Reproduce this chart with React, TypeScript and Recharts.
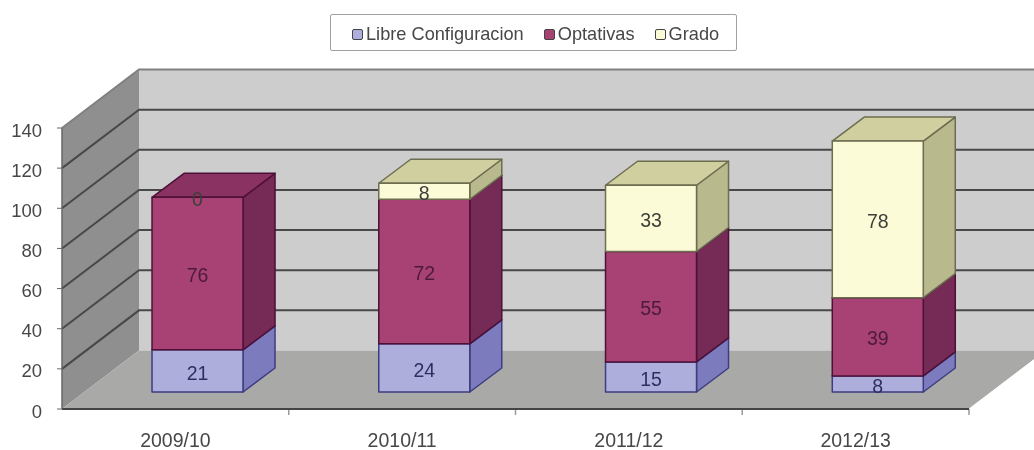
import React from "react";
import {
  Bar,
  BarChart,
  LabelList,
  Legend,
  XAxis,
  YAxis,
  usePlotArea,
} from "recharts";

const categories = ["2009/10", "2010/11", "2011/12", "2012/13"];
const libre = [21, 24, 15, 8];
const optativas = [76, 72, 55, 39];
const grado = [0, 8, 33, 78];
const yTicks = [0, 20, 40, 60, 80, 100, 120, 140];

const data = categories.map((year, i) => ({
  year,
  libre: libre[i],
  optativas: optativas[i],
  grado: grado[i],
}));

const FONT = "'Liberation Sans', Arial, sans-serif";
const TEXT = "#474747";

// 3d offsets: the walls go back by WALL_*, bars sit half way in the floor
const WALL_X = 77;
const WALL_Y = 58.5;
const BAR_SHIFT_X = 22;
const BAR_SHIFT_Y = 17;
const BAR_DEPTH_X = 32;
const BAR_DEPTH_Y = 24;

const pts = (list: number[][]) => list.map((p) => p.join(",")).join(" ");

const Walls = () => {
  const plot = usePlotArea();
  if (!plot) return null;
  const { x, y, width, height } = plot;
  const right = x + width;
  const bottom = y + height;
  const valueY = (v: number) => y + height * (1 - v / 140);
  const step = width / categories.length;
  return (
    <g>
      <polygon
        points={pts([
          [x + WALL_X, y - WALL_Y],
          [right + WALL_X, y - WALL_Y],
          [right + WALL_X, bottom - WALL_Y],
          [x + WALL_X, bottom - WALL_Y],
        ])}
        fill="#cdcdcd"
      />
      <polygon
        points={pts([
          [x, bottom],
          [x + WALL_X, bottom - WALL_Y],
          [x + WALL_X, y - WALL_Y],
          [x, y],
        ])}
        fill="#8f8f8f"
      />
      <polygon
        points={pts([
          [x, bottom],
          [right, bottom],
          [right + WALL_X, bottom - WALL_Y],
          [x + WALL_X, bottom - WALL_Y],
        ])}
        fill="#a9aaa8"
      />
      {yTicks.slice(1).map((t) => (
        <polyline
          key={t}
          points={pts([
            [x, valueY(t)],
            [x + WALL_X, valueY(t) - WALL_Y],
            [right + WALL_X, valueY(t) - WALL_Y],
          ])}
          fill="none"
          stroke={t === 140 ? "#808080" : "#484848"}
          strokeWidth={2}
        />
      ))}
      <line
        x1={right}
        y1={bottom}
        x2={right + WALL_X}
        y2={bottom - WALL_Y}
        stroke="#ffffff"
        strokeWidth={1}
      />
      {categories.map((c, i) => (
        <line
          key={c}
          x1={x + step * (i + 1)}
          y1={bottom}
          x2={x + step * (i + 1)}
          y2={bottom + 6}
          stroke="#9a9a9a"
          strokeWidth={1.5}
        />
      ))}
    </g>
  );
};

const makeBox =
  (front: string, side: string, top: string, edge: string) => (props: any) => {
    const { x, y, width, height } = props;
    if (!height || height <= 0) return null;
    const l = x + BAR_SHIFT_X;
    const r = l + width;
    const t = y - BAR_SHIFT_Y;
    const b = t + height;
    const line = { stroke: edge, strokeWidth: 1.5, strokeLinejoin: "round" as const };
    return (
      <g>
        <polygon
          points={pts([
            [r, t],
            [r + BAR_DEPTH_X, t - BAR_DEPTH_Y],
            [r + BAR_DEPTH_X, b - BAR_DEPTH_Y],
            [r, b],
          ])}
          fill={side}
          {...line}
        />
        <polygon
          points={pts([
            [l, t],
            [l + BAR_DEPTH_X, t - BAR_DEPTH_Y],
            [r + BAR_DEPTH_X, t - BAR_DEPTH_Y],
            [r, t],
          ])}
          fill={top}
          {...line}
        />
        <rect x={l} y={t} width={width} height={height} fill={front} {...line} />
      </g>
    );
  };

const makeLabel = (color: string) => (props: any) => {
  const { x, y, width, height, value } = props;
  return (
    <text
      x={x + BAR_SHIFT_X + width / 2}
      y={y - BAR_SHIFT_Y + height / 2 + 3.5}
      textAnchor="middle"
      dominantBaseline="middle"
      fontFamily={FONT}
      fontSize={19.5}
      fill={color}
    >
      {value}
    </text>
  );
};

const LegendBox = ({ payload }: any) => (
  <div
    style={{
      boxSizing: "border-box",
      width: 407,
      height: 37,
      paddingLeft: 21,
      paddingTop: 3,
      border: "1.5px solid #a0a0a0",
      borderRadius: 2,
      background: "#fff",
      display: "flex",
      alignItems: "center",
      gap: 20,
      fontFamily: FONT,
      fontSize: 18.2,
      color: TEXT,
    }}
  >
    {(payload || []).map((item: any) => (
      <span key={item.value} style={{ display: "flex", alignItems: "center", gap: 3 }}>
        <span
          style={{
            boxSizing: "border-box",
            width: 11,
            height: 11,
            borderRadius: 2,
            background: item.color,
            border: "1.5px solid #444",
          }}
        />
        {item.value}
      </span>
    ))}
  </div>
);

export default function App() {
  return (
    <div
      style={{
        position: "absolute",
        left: 0,
        top: 0,
        width: 1034,
        height: 450,
        background: "#fff",
        filter: "blur(0.7px)",
      }}
    >
      <BarChart
        width={1034}
        height={450}
        data={data}
        barCategoryGap="30%"
        margin={{ top: 128, right: 65, bottom: 0, left: 0 }}
      >
        <Walls />
        <XAxis
          dataKey="year"
          height={41}
          tickLine={false}
          tickMargin={18}
          axisLine={{ stroke: "#444", strokeWidth: 2 }}
          tick={{ fontFamily: FONT, fontSize: 19.5, fill: TEXT }}
        />
        <YAxis
          width={62}
          domain={[0, 140]}
          ticks={yTicks}
          tickSize={5}
          tickMargin={15}
          axisLine={{ stroke: "#666", strokeWidth: 1.5 }}
          tickLine={{ stroke: "#666" }}
          tick={{ fontFamily: FONT, fontSize: 18.5, fill: TEXT, dy: 2 }}
        />
        <Legend
          layout="horizontal"
          verticalAlign="middle"
          itemSorter={null}
          content={<LegendBox />}
          wrapperStyle={{ left: 330, top: 14, width: 407, height: 37, bottom: "auto" }}
        />
        <Bar
          dataKey="libre"
          name="Libre Configuracion"
          stackId="a"
          fill="#aeaedc"
          isAnimationActive={false}
          shape={makeBox("#aeaedc", "#7b7bbd", "#8d8dc8", "#3d3d80")}
        >
          <LabelList dataKey="libre" content={makeLabel("#2e2e62")} />
        </Bar>
        <Bar
          dataKey="optativas"
          name="Optativas"
          stackId="a"
          fill="#a84274"
          isAnimationActive={false}
          shape={makeBox("#a84274", "#762b57", "#8a3362", "#4f1038")}
        >
          <LabelList dataKey="optativas" content={makeLabel("#4c1a3c")} />
        </Bar>
        <Bar
          dataKey="grado"
          name="Grado"
          stackId="a"
          fill="#fbfbd8"
          isAnimationActive={false}
          shape={makeBox("#fbfbd8", "#b9b98e", "#cfcfa0", "#6d6d50")}
        >
          <LabelList dataKey="grado" content={makeLabel("#3f3f3a")} />
        </Bar>
      </BarChart>
    </div>
  );
}
